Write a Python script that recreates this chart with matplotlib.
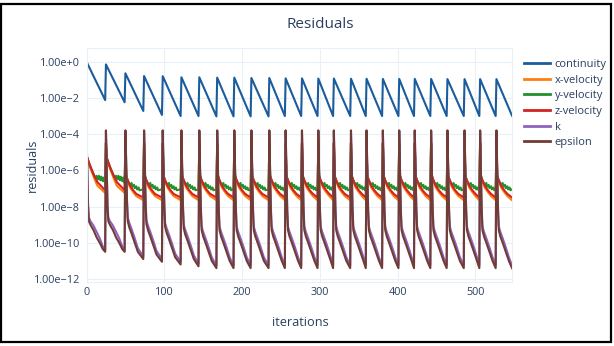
import matplotlib.pyplot as plt
import matplotlib.patches as patches
import numpy as np

plt.rcParams["font.family"] = ["Open Sans", "DejaVu Sans"]

# iteration at which each time step starts, last iteration written
step_start = [0, 25, 50, 74, 98, 122, 145, 168, 190, 212, 235, 256, 277,
              298, 318, 340, 360, 381, 402, 422, 443, 464, 486, 506, 527]
last_iter = 547

# continuity (log10) at the start and the end of each time step
cont_peak = [0.0, -0.15, -0.64, -0.79, -0.80, -0.86, -0.86, -0.88, -0.88,
             -0.90, -0.90, -0.92, -0.92, -0.93, -0.93, -0.94, -0.94, -0.95,
             -0.95, -0.95, -0.95, -0.96, -0.96, -0.96, -0.96]
cont_end = [-2.12, -2.24, -2.72, -2.94, -3.0, -3.0, -3.02, -3.02, -3.02,
            -3.02, -3.0, -3.0, -3.0, -3.0, -3.0, -3.0, -3.0, -3.0, -3.0,
            -3.0, -3.0, -3.0, -3.0, -3.0, -2.98]

# velocity residuals (log10) inside a time step: first two steps / later steps
vel_offs = [1, 3, 6, 10, 14]
zvel_early = [-5.3, -5.55, -5.9, -6.3, -6.65]
zvel_late = [-6.3, -6.55, -6.85, -7.1, -7.3]
zvel_end = (-7.1, -7.5)
xvel_early = [-5.35, -5.65, -6.0, -6.45, -6.85]
xvel_late = [-6.35, -6.62, -6.95, -7.2, -7.42]
xvel_end = (-7.25, -7.65)
yvel_offs_early = [1, 3, 6, 10, 12, 13, 15, 16, 18, 19, 21, 22]
yvel_early = [-5.3, -5.55, -5.9, -6.3, -6.45, -6.3, -6.5, -6.3, -6.55,
              -6.35, -6.6, -6.4]
yvel_offs_late = [1, 3, 6, 8, 9, 11, 12, 14, 15, 17, 18]
yvel_late = [-6.3, -6.55, -6.8, -6.7, -6.9, -6.8, -6.98, -6.88, -7.05,
             -6.95, -7.1]
yvel_end = (-6.7, -7.05)
vel_first = -6.9
vel_spike = -4.5

# turbulence residuals (log10) inside a time step
turb_offs_early = [1, 2, 3, 5, 9, 13, 17, 21]
turb_offs_late = [1, 2, 3, 5, 8, 12, 16]
eps_early = [-6.0, -8.0, -8.8, -9.0, -9.3, -9.7, -10.0, -10.35]
eps_late = [-6.0, -8.2, -9.3, -9.65, -10.0, -10.5, -11.0]
eps_end = (-10.5, -11.4)
k_early = [-6.0, -7.9, -8.6, -8.8, -9.05, -9.4, -9.75, -10.2]
k_late = [-6.0, -8.0, -9.1, -9.4, -9.75, -10.25, -10.8]
k_end = (-10.45, -11.25)
turb_spike = -3.8
turb_shift = [0, 0, 0.5, 0.35, 0.2, 0.1] + [0] * 19

names = ["continuity", "x-velocity", "y-velocity", "z-velocity", "k", "epsilon"]
colors = ["#1a5c9c", "#ff7f0e", "#22912b", "#d32222", "#8e62bb", "#703c34"]


def step_end(i):
    return step_start[i + 1] - 1 if i + 1 < len(step_start) else last_iter


def build(first, spike, offs_a, vals_a, offs_b, vals_b, ends, shift=None):
    it, val = [], []
    for i, s in enumerate(step_start):
        e = step_end(i)
        offs, vals, end = (offs_a, vals_a, ends[0]) if i < 2 else (offs_b, vals_b, ends[1])
        d = shift[i] if shift else 0
        it.append(s)
        val.append(first if i == 0 else spike)
        for o, v in zip(offs, vals):
            if s + o < e:
                it.append(s + o)
                val.append(v + d)
        it.append(e)
        val.append(end + d)
    return np.array(it), 10.0 ** np.array(val)


def build_cont():
    it, val = [], []
    for i, s in enumerate(step_start):
        it += [s, step_end(i)]
        val += [cont_peak[i], cont_end[i]]
    return np.array(it), 10.0 ** np.array(val)


series = [
    build_cont(),
    build(vel_first, vel_spike, vel_offs, xvel_early, vel_offs, xvel_late, xvel_end),
    build(vel_first, vel_spike, yvel_offs_early, yvel_early, yvel_offs_late, yvel_late, yvel_end),
    build(vel_first, vel_spike, vel_offs, zvel_early, vel_offs, zvel_late, zvel_end),
    build(turb_spike, turb_spike, turb_offs_early, k_early, turb_offs_late, k_late, k_end, turb_shift),
    build(turb_spike, turb_spike, turb_offs_early, eps_early, turb_offs_late, eps_late, eps_end, turb_shift),
]

W, H = 614, 346
fig = plt.figure(figsize=(W / 100, H / 100), dpi=100)
ax = fig.add_axes([86.5 / W, 1 - 281.7 / H, (512 - 86.5) / W, (281.7 - 48) / H])

for (x, y), name, c in zip(series, names, colors):
    ax.plot(x, y, color=c, lw=1.5, label=name, solid_joinstyle="round")

ax.set_yscale("log")
ax.set_xlim(0, last_iter)
ax.set_ylim(10 ** -12.15, 10 ** 0.757)

yt = [0, -2, -4, -6, -8, -10, -12]
ax.set_yticks([10.0 ** v for v in yt])
ax.set_yticklabels(["1.00e+0" if v == 0 else "1.00e\u2212%d" % -v for v in yt])
ax.yaxis.set_minor_locator(plt.NullLocator())
ax.set_xticks([0, 100, 200, 300, 400, 500])

txt = "#2a3f5f"
ax.tick_params(length=0, labelsize=7.8, labelcolor=txt)
ax.tick_params(axis="y", pad=4.5)
ax.tick_params(axis="x", pad=4)
ax.grid(True, color="#ebf0f8", lw=0.8)
ax.set_axisbelow(True)
for sp in ax.spines.values():
    sp.set_color("#ebf0f8")
    sp.set_linewidth(0.8)

ax.set_xlabel("iterations", fontsize=9.2, color=txt)
ax.set_ylabel("residuals", fontsize=9, color=txt)
ax.xaxis.label.set_va("center")
ax.xaxis.set_label_coords(0.5 - (512 + 86.5 - 600) / 2 / 425.5, -(322 - 281.7) / 233.7)
ax.yaxis.label.set_va("center")
ax.yaxis.set_label_coords(-(86.5 - 32) / 425.5, 1 - (165 - 48) / 233.7)

fig.text(320.5 / W, 1 - 24 / H, "Residuals", ha="center", va="center",
         fontsize=11, color=txt)

leg = ax.legend(loc="upper left", bbox_to_anchor=(524 / W, 1 - 59 / H),
                bbox_transform=fig.transFigure, frameon=False, fontsize=8,
                handlelength=2.3, handletextpad=0.45, labelspacing=0.42,
                borderpad=0, borderaxespad=0)
for t in leg.get_texts():
    t.set_color(txt)
for l in leg.get_lines():
    l.set_linewidth(2)

fig.patches.append(patches.Rectangle((1.5 / W, 1 - 342 / H), 609 / W, 338 / H,
                                     transform=fig.transFigure, fill=False,
                                     edgecolor="black", lw=1.6))

fig.savefig("out.png", dpi=100)
